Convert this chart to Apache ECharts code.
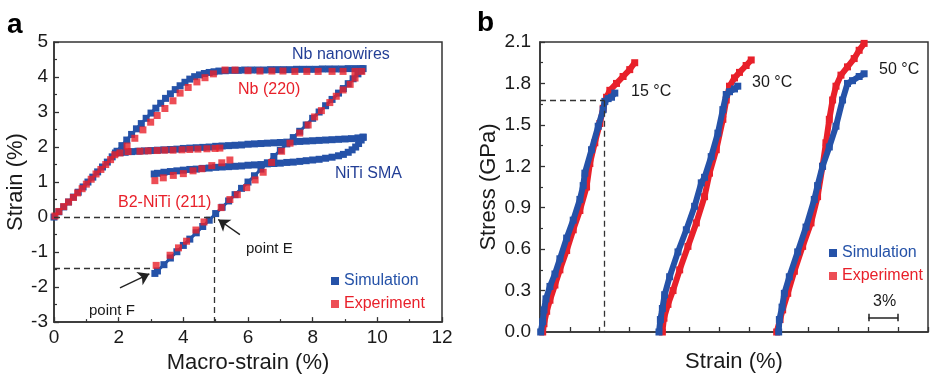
<!DOCTYPE html>
<html><head><meta charset="utf-8">
<script src="https://cdn.jsdelivr.net/npm/echarts@6/dist/echarts.min.js"></script>
<style>html,body{margin:0;padding:0;background:#fff}#c{width:930px;height:379px}</style>
</head><body><div id="c"></div>
<script>
// ---------- Panel a : tick values ----------
const aXTicks = {min:0, max:12, interval:2};
const aYTicks = {min:-3, max:5, interval:1};
// ---------- Panel a : Simulation (blue) ----------
const simNbLoad = [[0,0],[0.15,0.15],[0.3,0.29],[0.45,0.43],[0.6,0.57],[0.75,0.71],[0.9,0.86],[1.05,1.0],[1.2,1.14],[1.35,1.29],[1.5,1.43],[1.65,1.57],[1.8,1.72],[1.95,1.88],[2.1,2.04],[2.25,2.2],[2.4,2.36],[2.55,2.52],[2.7,2.67],[2.85,2.82],[3.0,2.97],[3.15,3.11],[3.3,3.25],[3.45,3.39],[3.6,3.52],[3.75,3.64],[3.9,3.75],[4.05,3.85],[4.2,3.94],[4.35,4.01],[4.5,4.06],[4.65,4.1],[4.8,4.13],[4.95,4.15],[5.1,4.17],[5.3,4.18],[5.5,4.19],[5.7,4.19],[5.9,4.2],[6.1,4.2],[6.3,4.2],[6.5,4.2],[6.7,4.21],[6.9,4.21],[7.1,4.21],[7.3,4.21],[7.5,4.22],[7.7,4.22],[7.9,4.22],[8.1,4.22],[8.3,4.23],[8.5,4.23],[8.7,4.23],[8.9,4.23],[9.1,4.24],[9.3,4.24],[9.5,4.24]];
const simNbUnload = [[9.56,4.24],[9.5,4.18],[9.4,4.09],[9.25,3.95],[9.1,3.81],[8.95,3.67],[8.8,3.54],[8.6,3.36],[8.4,3.18],[8.2,3.0],[8.0,2.82],[7.8,2.63],[7.6,2.45],[7.4,2.27],[7.2,2.09],[7.0,1.91],[6.8,1.73],[6.6,1.55],[6.4,1.37],[6.2,1.18],[6.0,1.0],[5.8,0.82],[5.6,0.64],[5.4,0.46],[5.2,0.28],[5.0,0.1],[4.8,-0.09],[4.6,-0.27],[4.4,-0.45],[4.2,-0.63],[4.0,-0.81],[3.8,-0.99],[3.6,-1.17],[3.4,-1.36],[3.2,-1.54],[3.12,-1.61]];
const simNitiLoad = [[1.9,1.83],[2.05,1.84],[2.2,1.85],[2.4,1.87],[2.6,1.88],[2.8,1.89],[3.0,1.9],[3.2,1.91],[3.4,1.92],[3.6,1.93],[3.8,1.94],[4.0,1.96],[4.2,1.97],[4.4,1.98],[4.6,1.99],[4.8,2.0],[5.0,2.02],[5.2,2.03],[5.4,2.04],[5.6,2.05],[5.8,2.06],[6.0,2.08],[6.2,2.09],[6.4,2.1],[6.6,2.11],[6.8,2.12],[7.0,2.13],[7.2,2.14],[7.4,2.15],[7.6,2.16],[7.8,2.17],[8.0,2.18],[8.2,2.19],[8.4,2.2],[8.6,2.21],[8.8,2.22],[9.0,2.23],[9.2,2.24],[9.4,2.26],[9.56,2.28]];
const simNitiUnload = [[9.56,2.28],[9.5,2.2],[9.42,2.1],[9.33,2.0],[9.22,1.92],[9.1,1.85],[8.95,1.79],[8.8,1.75],[8.6,1.71],[8.4,1.68],[8.2,1.65],[8.0,1.63],[7.8,1.61],[7.6,1.59],[7.4,1.57],[7.2,1.56],[7.0,1.54],[6.8,1.53],[6.6,1.52],[6.4,1.5],[6.2,1.49],[6.0,1.48],[5.8,1.46],[5.6,1.45],[5.4,1.44],[5.2,1.43],[5.0,1.42],[4.8,1.4],[4.6,1.39],[4.4,1.37],[4.2,1.36],[4.0,1.34],[3.8,1.32],[3.6,1.3],[3.4,1.28],[3.2,1.25],[3.1,1.23]];
// ---------- Panel a : Experiment (red) ----------
const expInit = [[0.03,0.03],[0.15,0.16],[0.3,0.3],[0.45,0.43],[0.6,0.56],[0.73,0.69],[0.87,0.81],[1.0,0.94],[1.15,1.08],[1.3,1.23],[1.45,1.36],[1.6,1.5],[1.75,1.64],[1.88,1.78]];
const expNbLoad = [[2.26,2.03],[2.5,2.25],[2.75,2.49],[2.99,2.71],[3.19,2.9],[3.43,3.1],[3.68,3.32],[3.9,3.54],[4.15,3.7],[4.42,3.86],[4.67,3.98],[4.93,4.09],[5.29,4.2],[5.6,4.2],[6.0,4.18],[6.37,4.17],[6.74,4.17],[7.08,4.17],[7.45,4.16],[7.82,4.16],[8.17,4.16],[8.6,4.16],[8.94,4.16],[9.31,4.16],[9.52,4.16]];
const expNbUnload = [[9.31,3.97],[9.16,3.79],[8.94,3.63],[8.73,3.45],[8.53,3.27],[8.27,3.04],[8.06,2.86],[7.86,2.63],[7.6,2.4],[7.3,2.11],[7.04,1.88],[6.73,1.56],[6.47,1.28],[6.22,1.06],[5.96,0.84],[5.67,0.64],[5.44,0.5],[5.17,0.27],[4.64,-0.14],[4.39,-0.37],[4.1,-0.69],[3.85,-0.88],[3.59,-1.09],[3.16,-1.38]];
const expNitiLoad = [[2.04,1.83],[2.29,1.87],[2.66,1.88],[2.91,1.89],[3.19,1.9],[3.43,1.91],[3.68,1.91],[3.96,1.92],[4.2,1.93],[4.45,1.94],[4.73,1.95],[4.98,1.96],[5.13,1.97]];
const expNitiUnload = [[5.44,1.63],[5.19,1.55],[4.88,1.47],[4.57,1.38],[4.3,1.32],[4.0,1.24],[3.69,1.19],[3.38,1.12],[3.12,1.04]];
// guide lines panel a
const pointE = [4.95, 0];
const pointF = [3.0, -1.47];

// ---------- Panel b : tick values ----------
const bXTicks = {min:0, max:39, interval:3};
const bYTicks = {min:0, max:2.1, interval:0.3};
// ---------- Panel b : Simulation ----------
const sim15 = [[0.07,0],[0.27,0.075],[0.4,0.16],[0.6,0.24],[1.0,0.33],[1.5,0.42],[2.0,0.53],[2.68,0.68],[3.34,0.81],[4.01,0.96],[4.34,1.06],[4.51,1.15],[5.18,1.32],[5.85,1.49],[6.35,1.61],[6.52,1.67],[6.85,1.69],[7.19,1.7],[7.52,1.73]];
const sim30 = [[11.96,0],[12.1,0.09],[12.3,0.17],[12.53,0.27],[13.03,0.4],[13.87,0.58],[14.71,0.74],[15.54,0.91],[16.21,1.08],[16.54,1.12],[17.21,1.27],[17.88,1.44],[18.38,1.61],[18.72,1.72],[19.05,1.74],[19.55,1.76],[19.88,1.78]];
const sim50 = [[23.99,0],[24.06,0.09],[24.33,0.18],[24.56,0.28],[25.06,0.4],[25.9,0.58],[26.74,0.76],[27.57,0.96],[27.9,1.06],[28.4,1.2],[29.08,1.34],[29.75,1.49],[30.41,1.68],[30.91,1.8],[31.41,1.82],[32.08,1.85],[32.58,1.87]];
// ---------- Panel b : Experiment ----------
const exp15 = [[0.27,0],[0.4,0.06],[0.67,0.15],[1.0,0.23],[1.5,0.34],[2.0,0.45],[2.68,0.59],[3.34,0.74],[4.01,0.88],[4.68,1.05],[5.01,1.22],[5.51,1.37],[6.02,1.51],[6.35,1.62],[6.69,1.7],[7.02,1.75],[7.69,1.8],[8.35,1.85],[9.02,1.9],[9.52,1.95]];
const exp30 = [[12.3,0],[12.46,0.1],[12.86,0.2],[13.37,0.3],[14.04,0.45],[14.87,0.62],[15.71,0.79],[16.54,0.98],[17.04,1.15],[17.72,1.32],[18.38,1.54],[18.72,1.68],[19.05,1.78],[19.55,1.84],[20.05,1.88],[20.72,1.93],[21.23,1.97]];
const exp50 = [[23.79,0],[24.13,0.09],[24.39,0.16],[24.9,0.28],[25.57,0.44],[26.4,0.62],[27.24,0.79],[27.9,0.98],[28.4,1.2],[28.74,1.37],[29.08,1.54],[29.41,1.68],[29.75,1.78],[30.25,1.86],[30.91,1.92],[31.58,1.98],[32.08,2.04],[32.58,2.09]];
const guide15 = [6.5, 1.675];
const scaleBar = [33, 36, 0.105];

// ---------- styling ----------
const FONT = '"Liberation Sans", Arial, Helvetica, sans-serif';
const BLUE = '#2552a8', RED = '#e8202a', BLUE_TXT = '#233f96', INK = '#1a1a1a', AX = '#333';

function valAxis(o) {
  return Object.assign({
    type: 'value',
    axisLine: {show: true, onZero: false, lineStyle: {color: AX, width: 1.5}},
    axisTick: {show: true, inside: true, length: 5, lineStyle: {color: AX, width: 1.3}},
    minorTick: {show: true, splitNumber: 2, length: 3, lineStyle: {color: AX, width: 1.2}},
    splitLine: {show: false},
    axisLabel: {color: INK, fontSize: 19, fontFamily: FONT},
    nameLocation: 'middle',
    nameTextStyle: {color: INK, fontSize: 22, fontFamily: FONT}
  }, o);
}

function simLineA(data) {
  return {name: 'Simulation', type: 'line', xAxisIndex: 0, yAxisIndex: 0, data: data,
    symbol: 'rect', symbolSize: 7, showAllSymbol: true, itemStyle: {color: BLUE},
    lineStyle: {color: BLUE, width: 3}, z: 2, animation: false};
}
function expScatterA(data) {
  return {name: 'Experiment', type: 'scatter', xAxisIndex: 0, yAxisIndex: 0, data: data,
    symbol: 'rect', symbolSize: 7, itemStyle: {color: RED}, z: 3, animation: false};
}
function lineB(name, data, color, z) {
  return {name: name, type: 'line', xAxisIndex: 1, yAxisIndex: 1, data: data,
    symbol: 'rect', symbolSize: 7, showAllSymbol: true, itemStyle: {color: color},
    lineStyle: {color: color, width: 6}, z: z, animation: false};
}

const dashStyle = {type: [6, 4], color: '#333', width: 1.3};

const series = [
  simLineA(simNbLoad), simLineA(simNbUnload), simLineA(simNitiLoad), simLineA(simNitiUnload),
  expScatterA(expInit), expScatterA(expNbLoad), expScatterA(expNbUnload), expScatterA(expNitiLoad), expScatterA(expNitiUnload),
  {type: 'scatter', xAxisIndex: 0, yAxisIndex: 0, data: [], silent: true, z: 4,
    markLine: {silent: true, symbol: 'none', animation: false, label: {show: false}, lineStyle: dashStyle,
      data: [
        [{coord: [0, pointE[1]]}, {coord: pointE}],
        [{coord: pointE}, {coord: [pointE[0], aYTicks.min]}],
        [{coord: [0, pointF[1]]}, {coord: pointF}]
      ]}},
  {type: 'scatter', xAxisIndex: 0, yAxisIndex: 0, data: [], silent: true, z: 5,
    markLine: {silent: true, symbol: ['none', 'arrow'], symbolSize: 11, animation: false, label: {show: false},
      lineStyle: {type: 'solid', color: '#222', width: 1.4},
      data: [
        [{coord: [5.75, -0.5]}, {coord: [5.08, -0.07]}],
        [{coord: [2.04, -2.02]}, {coord: [2.95, -1.62]}]
      ]}},
  lineB('Experiment', exp15, RED, 2), lineB('Experiment', exp30, RED, 2), lineB('Experiment', exp50, RED, 2),
  lineB('Simulation', sim15, BLUE, 3), lineB('Simulation', sim30, BLUE, 3), lineB('Simulation', sim50, BLUE, 3),
  {type: 'scatter', xAxisIndex: 1, yAxisIndex: 1, data: [], silent: true, z: 4,
    markLine: {silent: true, symbol: 'none', animation: false, label: {show: false}, lineStyle: dashStyle,
      data: [
        [{coord: [0, guide15[1]]}, {coord: guide15}],
        [{coord: guide15}, {coord: [guide15[0], 0]}]
      ]}},
  {type: 'scatter', xAxisIndex: 1, yAxisIndex: 1, data: [], silent: true, z: 4,
    markLine: {silent: true, symbol: 'none', animation: false, label: {show: false},
      lineStyle: {type: 'solid', color: '#222', width: 1.5},
      data: [
        [{coord: [scaleBar[0], scaleBar[2]]}, {coord: [scaleBar[1], scaleBar[2]]}],
        [{coord: [scaleBar[0], scaleBar[2] - 0.028]}, {coord: [scaleBar[0], scaleBar[2] + 0.028]}],
        [{coord: [scaleBar[1], scaleBar[2] - 0.028]}, {coord: [scaleBar[1], scaleBar[2] + 0.028]}]
      ]}}
];

function txt(text, x, y, color, size, weight) {
  return {type: 'text', x: x, y: y, silent: true, z: 10,
    style: {text: text, fill: color, fontSize: size, fontFamily: FONT, fontWeight: weight || 'normal',
      align: 'left', verticalAlign: 'middle'}};
}

const legendCommon = {orient: 'vertical', icon: 'rect', itemWidth: 8, itemHeight: 8, itemGap: 7, itemTextGap: 6,
  selectedMode: false, textStyle: {fontSize: 16, fontFamily: FONT},
  data: [{name: 'Simulation', textStyle: {color: BLUE}}, {name: 'Experiment', textStyle: {color: RED}}]};

const option = {
  animation: false,
  backgroundColor: '#fff',
  textStyle: {fontFamily: FONT},
  grid: [
    {left: 54, top: 42, width: 388, height: 290, show: true, borderColor: AX, borderWidth: 1.5, backgroundColor: 'transparent'},
    {left: 540, top: 42, width: 388, height: 290, show: true, borderColor: AX, borderWidth: 1.5, backgroundColor: 'transparent'}
  ],
  xAxis: [
    valAxis({gridIndex: 0, min: aXTicks.min, max: aXTicks.max, interval: aXTicks.interval, name: 'Macro-strain (%)', nameGap: 25,
      axisLabel: {color: INK, fontSize: 19, fontFamily: FONT, margin: 6}}),
    valAxis({gridIndex: 1, min: bXTicks.min, max: bXTicks.max, interval: bXTicks.interval, name: 'Strain (%)', nameGap: 19,
      axisLabel: {show: false}, minorTick: {show: false}})
  ],
  yAxis: [
    valAxis({gridIndex: 0, min: aYTicks.min, max: aYTicks.max, interval: aYTicks.interval, name: 'Strain (%)', nameGap: 27,
      axisLabel: {color: INK, fontSize: 19, fontFamily: FONT, margin: 6}}),
    valAxis({gridIndex: 1, min: bYTicks.min, max: bYTicks.max, interval: bYTicks.interval, name: 'Stress (GPa)', nameGap: 40,
      axisLabel: {color: INK, fontSize: 19, fontFamily: FONT, margin: 9, formatter: v => v.toFixed(1)}})
  ],
  legend: [
    Object.assign({left: 326, top: 268}, legendCommon),
    Object.assign({left: 824, top: 240}, legendCommon)
  ],
  graphic: [
    txt('a', 7, 25, '#000', 28, 'bold'),
    txt('b', 477, 23, '#000', 28, 'bold'),
    txt('Nb nanowires', 292, 55, BLUE_TXT, 16),
    txt('Nb (220)', 238, 90, RED, 16),
    txt('NiTi SMA', 335, 174, BLUE_TXT, 16),
    txt('B2-NiTi (211)', 118, 203, RED, 16),
    txt('point E', 246, 249, INK, 15),
    txt('point F', 89, 311, INK, 15),
    txt('15 °C', 631, 92, INK, 16),
    txt('30 °C', 752, 83, INK, 16),
    txt('50 °C', 879, 70, INK, 16),
    txt('3%', 873, 302, INK, 16)
  ],
  series: series
};

const chart = echarts.init(document.getElementById('c'), null, {renderer: 'canvas'});
chart.setOption(option);
</script>
</body></html>
